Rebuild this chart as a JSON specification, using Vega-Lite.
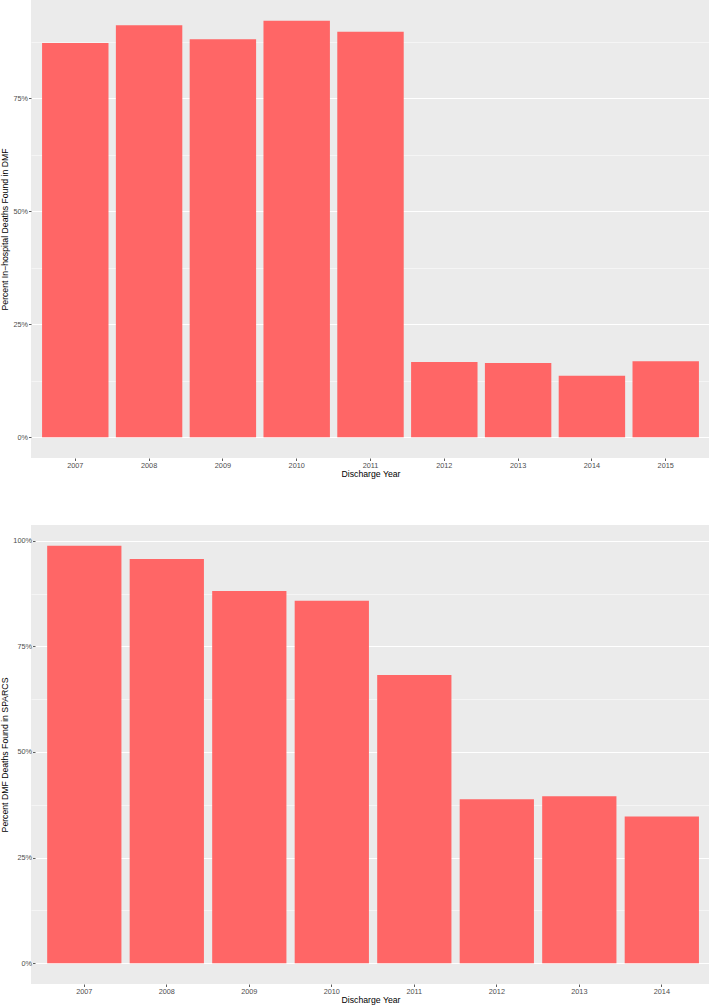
{
  "$schema": "https://vega.github.io/schema/vega-lite/v6.json",
  "padding": 0,
  "background": "white",
  "spacing": 46,
  "columns": 1,
  "config": {
    "font": "Liberation Sans",
    "view": {"fill": "#EBEBEB", "stroke": null},
    "axis": {
      "domain": false,
      "labelFont": "Liberation Sans",
      "labelFontSize": 7.3,
      "labelColor": "#4D4D4D",
      "tickColor": "#333333",
      "tickSize": 2.5,
      "tickWidth": 0.8,
      "gridColor": "white",
      "titleFont": "Liberation Sans",
      "titleFontWeight": "normal",
      "titleFontSize": 8.7,
      "titleColor": "black",
      "labelPadding": 1
    }
  },
  "datasets": {
    "dmf": [
      {"year": "2007", "pct": 87.2},
      {"year": "2008", "pct": 91.1},
      {"year": "2009", "pct": 88.0},
      {"year": "2010", "pct": 92.1},
      {"year": "2011", "pct": 89.7},
      {"year": "2012", "pct": 16.6},
      {"year": "2013", "pct": 16.4},
      {"year": "2014", "pct": 13.6},
      {"year": "2015", "pct": 16.8}
    ],
    "sparcs": [
      {"year": "2007", "pct": 98.8},
      {"year": "2008", "pct": 95.7},
      {"year": "2009", "pct": 88.1},
      {"year": "2010", "pct": 85.8},
      {"year": "2011", "pct": 68.2},
      {"year": "2012", "pct": 38.8},
      {"year": "2013", "pct": 39.5},
      {"year": "2014", "pct": 34.7}
    ]
  },
  "concat": [
    {
      "width": 679,
      "height": 458,
      "data": {"name": "dmf"},
      "mark": {"type": "bar", "color": "#FF6666"},
      "encoding": {
        "x": {
          "field": "year",
          "type": "ordinal",
          "title": "Discharge Year",
          "scale": {"paddingInner": 0.1, "paddingOuter": 0.15},
          "axis": {"labelAngle": 0, "bandPosition": 0.5, "gridWidth": 1.1, "labelPadding": 0.5, "titlePadding": 1.5}
        },
        "y": {
          "field": "pct",
          "type": "quantitative",
          "title": "Percent In−hospital Deaths Found in DMF",
          "scale": {"domain": [-4.61, 96.7], "nice": false, "zero": false},
          "axis": {
            "values": [0, 12.5, 25, 37.5, 50, 62.5, 75, 87.5],
            "labelExpr": "datum.value % 25 === 0 ? datum.value + '%' : ''",
            "tickOpacity": {"condition": {"test": "datum.value % 25 !== 0", "value": 0}, "value": 1},
            "gridWidth": {"condition": {"test": "datum.value % 25 !== 0", "value": 0.5}, "value": 1.1},
            "titleX": -21.5
          }
        }
      }
    },
    {
      "width": 679,
      "height": 459,
      "data": {"name": "sparcs"},
      "mark": {"type": "bar", "color": "#FF6666"},
      "encoding": {
        "x": {
          "field": "year",
          "type": "ordinal",
          "title": "Discharge Year",
          "scale": {"paddingInner": 0.1, "paddingOuter": 0.165, "align": 0.594},
          "axis": {"labelAngle": 0, "bandPosition": 0.5, "gridWidth": 1.1, "labelPadding": 0.5, "titlePadding": 1.5}
        },
        "y": {
          "field": "pct",
          "type": "quantitative",
          "title": "Percent DMF Deaths Found in SPARCS",
          "scale": {"domain": [-4.94, 103.74], "nice": false, "zero": false},
          "axis": {
            "values": [0, 12.5, 25, 37.5, 50, 62.5, 75, 87.5, 100],
            "labelExpr": "datum.value % 25 === 0 ? datum.value + '%' : ''",
            "tickOpacity": {"condition": {"test": "datum.value % 25 !== 0", "value": 0}, "value": 1},
            "gridWidth": {"condition": {"test": "datum.value % 25 !== 0", "value": 0.5}, "value": 1.1},
            "offset": -4,
            "titleX": -25.5
          }
        }
      }
    }
  ]
}
